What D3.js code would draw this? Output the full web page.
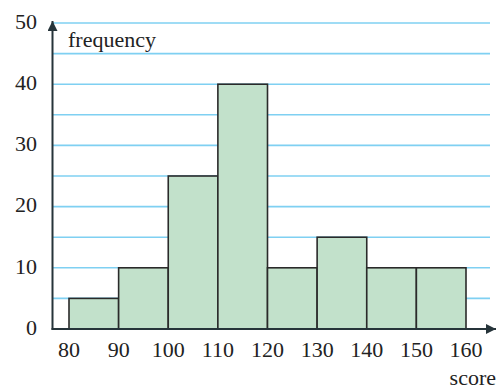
<!DOCTYPE html>
<html><head><meta charset="utf-8">
<script src="https://cdn.jsdelivr.net/npm/d3@7"></script>
<style>body{margin:0;background:#fff}svg{display:block}
svg text{font-family:"Liberation Serif",serif !important;}</style>
</head><body>
<script>
const binStarts = [80, 90, 100, 110, 120, 130, 140, 150];
const binWidth = 10;
const frequencies = [5, 10, 25, 40, 10, 15, 10, 10];
const xTicks = [80, 90, 100, 110, 120, 130, 140, 150, 160];
const yTicks = [0, 10, 20, 30, 40, 50];
const gridValues = [5, 10, 15, 20, 25, 30, 35, 40, 45, 50];

const W = 496, H = 388;
const svg = d3.select("body").append("svg").attr("width", W).attr("height", H)
  .attr("font-family", "Liberation Serif");
const x = d3.scaleLinear().domain([80, 160]).range([69, 466]);
const y = d3.scaleLinear().domain([0, 50]).range([329, 23]);
const axisX = 52.5, gridRight = 490;
const dark = "#26343a";
const FONT = "Liberation Serif";

svg.append("g").selectAll("line").data(gridValues).join("line")
  .attr("x1", axisX).attr("x2", gridRight)
  .attr("y1", d => y(d)).attr("y2", d => y(d))
  .attr("stroke", "#7fd0f2").attr("stroke-width", 1.6);

svg.append("g").selectAll("rect").data(binStarts).join("rect")
  .attr("x", d => x(d)).attr("width", d => x(d + binWidth) - x(d))
  .attr("y", (d, i) => y(frequencies[i]))
  .attr("height", (d, i) => y(0) - y(frequencies[i]))
  .attr("fill", "#c2e1cb").attr("stroke", "#2a2a2a").attr("stroke-width", 1.6);

const defs = svg.append("defs");
defs.append("marker").attr("id", "arr").attr("viewBox", "0 0 10 10")
  .attr("refX", 10).attr("refY", 5).attr("markerWidth", 10).attr("markerHeight", 10)
  .attr("markerUnits", "userSpaceOnUse").attr("orient", "auto")
  .append("path").attr("d", "M0,0 L10,5 L0,10 Z").attr("fill", dark);

svg.append("line").attr("x1", axisX).attr("x2", axisX).attr("y1", y(0) + 0.8).attr("y2", 21)
  .attr("stroke", dark).attr("stroke-width", 2).attr("marker-end", "url(#arr)");
svg.append("line").attr("x1", axisX - 1).attr("x2", 496).attr("y1", y(0)).attr("y2", y(0))
  .attr("stroke", dark).attr("stroke-width", 2).attr("marker-end", "url(#arr)");

svg.append("g").selectAll("text").data(yTicks).join("text")
  .attr("x", 37).attr("y", d => y(d) - 2).attr("dy", "0.35em")
  .attr("text-anchor", "end").style("font-family", FONT).attr("font-size", 22)
  .attr("fill", "#222").text(d => d);

svg.append("g").selectAll("text").data(xTicks).join("text")
  .attr("x", d => x(d)).attr("y", 356.5)
  .attr("text-anchor", "middle").style("font-family", FONT).attr("font-size", 22)
  .attr("fill", "#222").text(d => d);

svg.append("text").attr("x", 68).attr("y", 46.5)
  .style("font-family", FONT).attr("font-size", 22).attr("fill", "#222").text("frequency");
svg.append("text").attr("x", 496).attr("y", 385).attr("text-anchor", "end")
  .style("font-family", FONT).attr("font-size", 22).attr("fill", "#222").text("score");
</script>
</body></html>
